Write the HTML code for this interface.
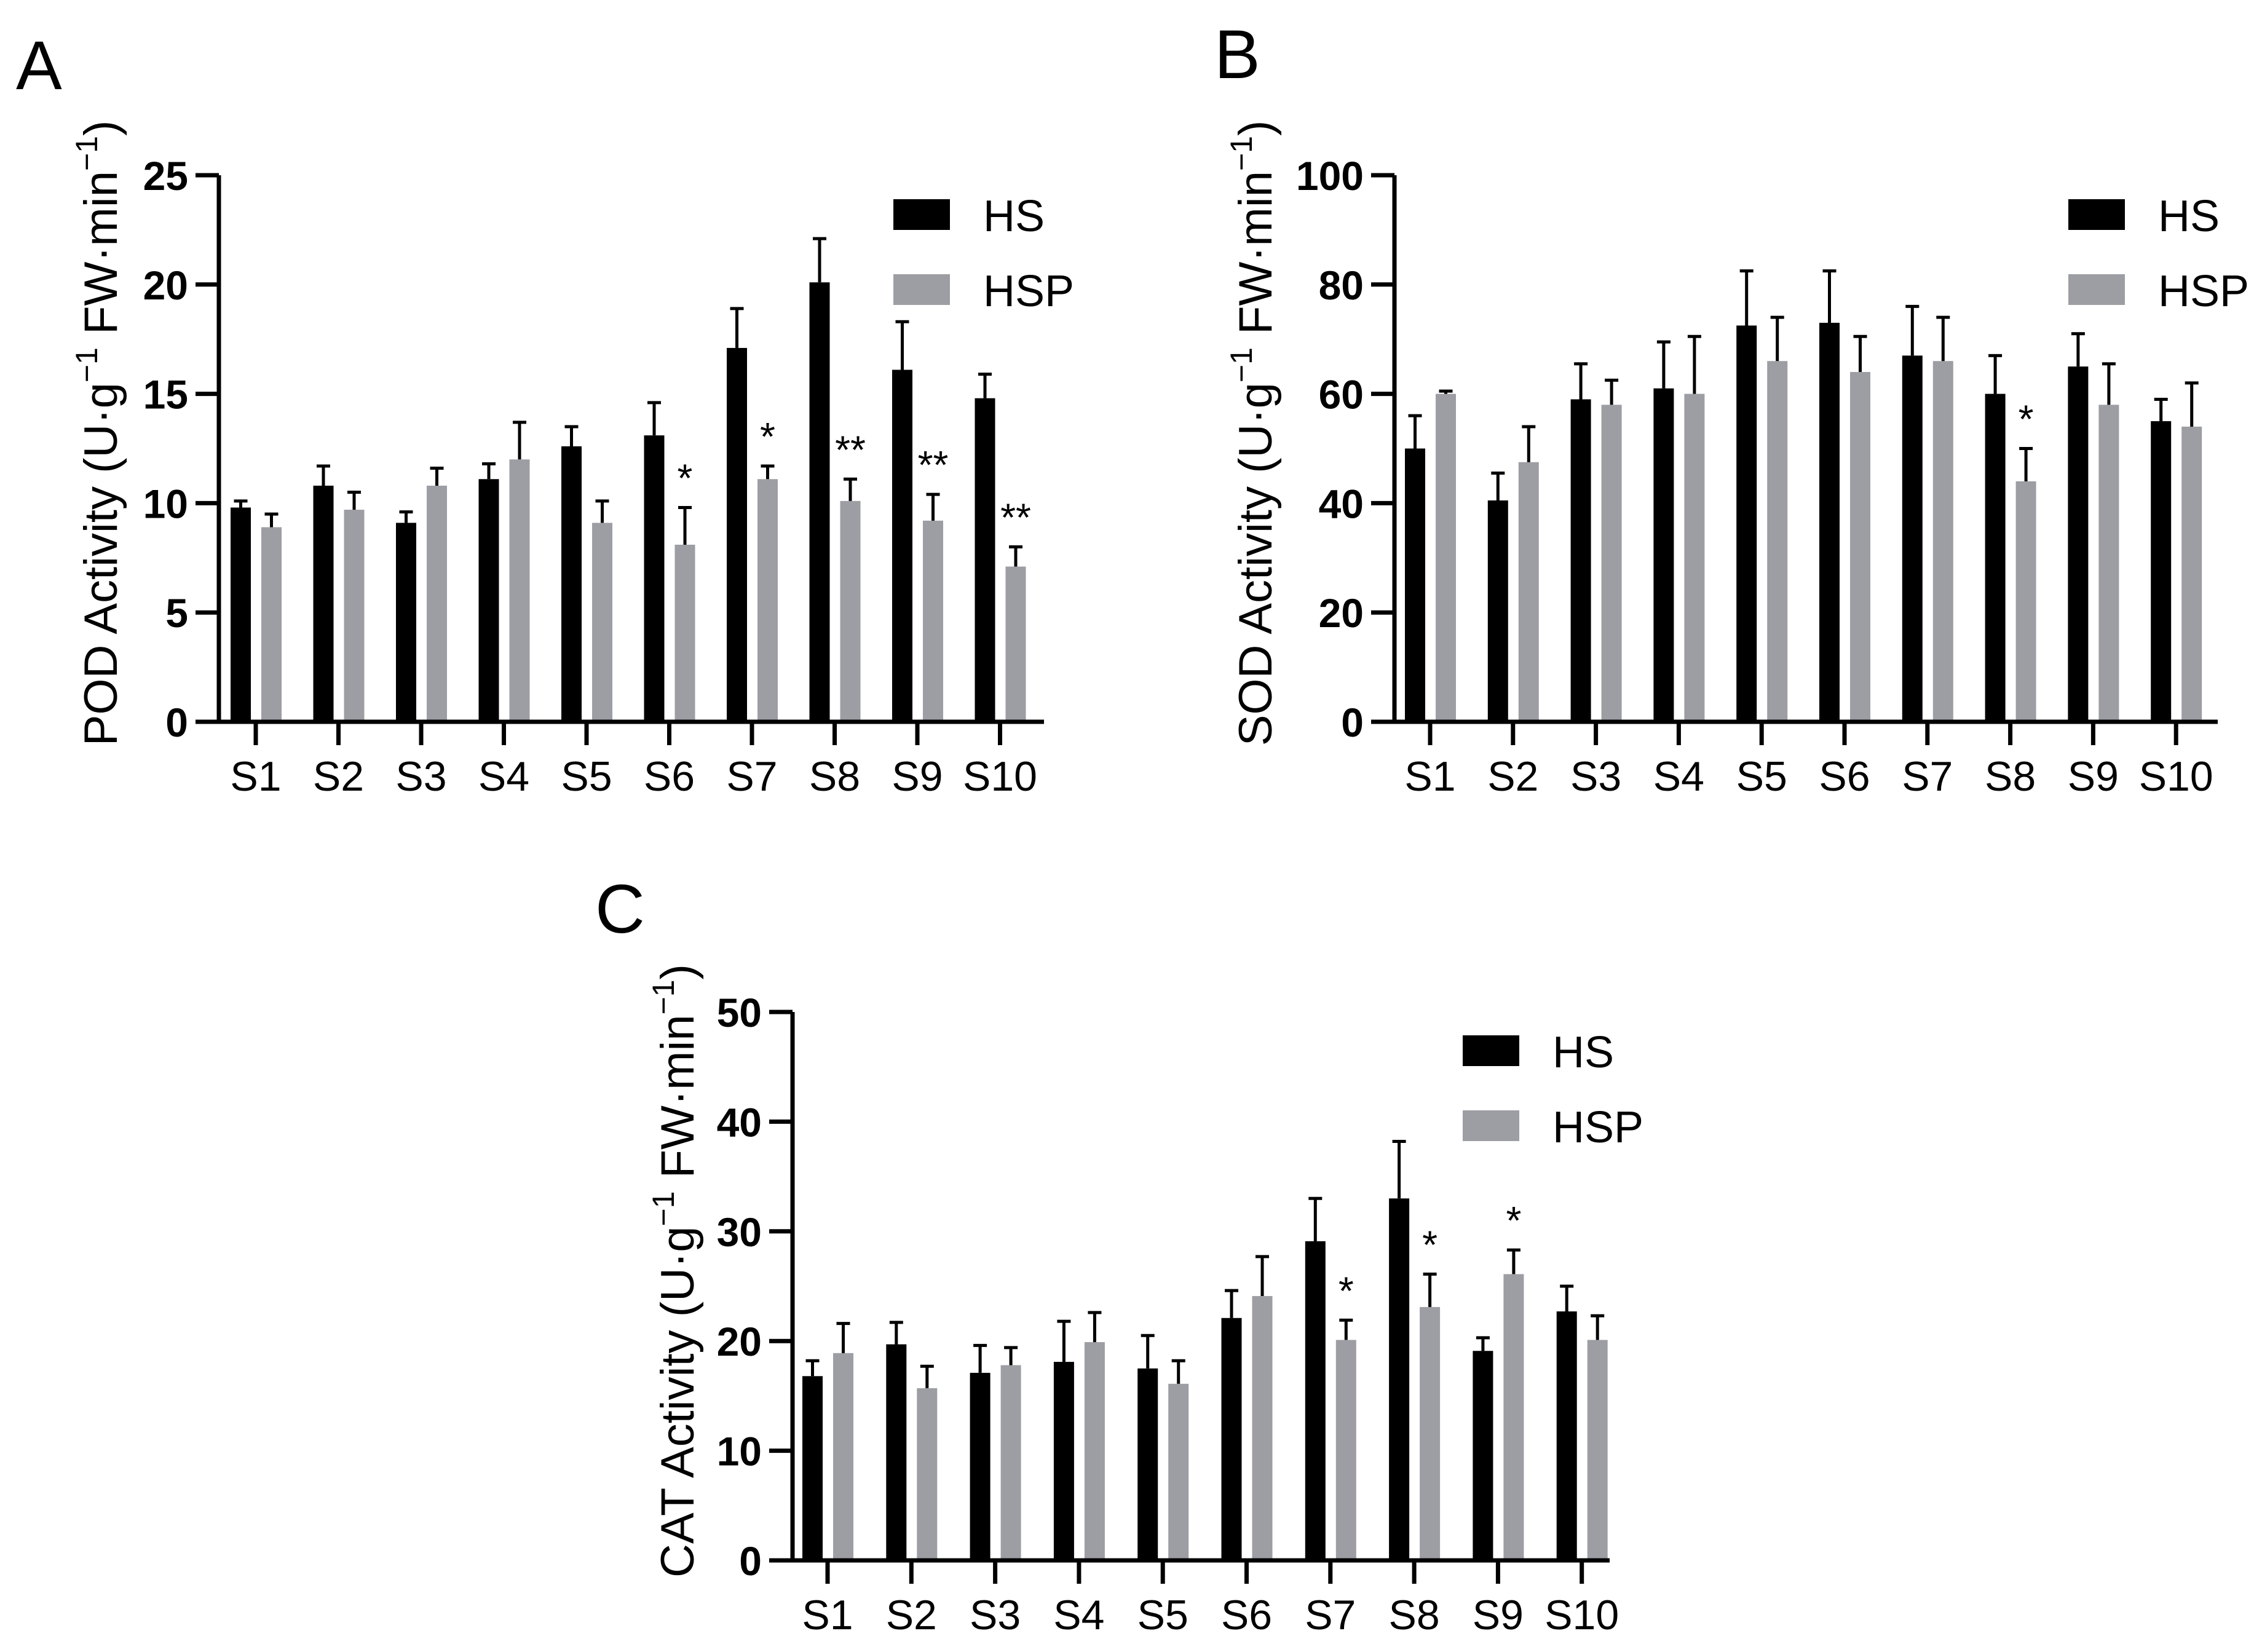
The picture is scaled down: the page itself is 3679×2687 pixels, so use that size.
<!DOCTYPE html>
<html><head><meta charset="utf-8">
<style>
html,body{margin:0;padding:0;background:#fff;}
svg{display:block;}
text{font-family:"Liberation Sans",Arial,sans-serif;}
</style></head>
<body>
<svg id="fig" width="3679" height="2687" viewBox="0 0 3679 2687" xmlns="http://www.w3.org/2000/svg"></svg>
<script>
const categories = ["S1","S2","S3","S4","S5","S6","S7","S8","S9","S10"];
// Panel A: POD
const podHS = [9.8,10.8,9.1,11.1,12.6,13.1,17.1,20.1,16.1,14.8];
const podHSErr = [10.1,11.7,9.6,11.8,13.5,14.6,18.9,22.1,18.3,15.9];
const podHSP = [8.9,9.7,10.8,12.0,9.1,8.1,11.1,10.1,9.2,7.1];
const podHSPErr = [9.5,10.5,11.6,13.7,10.1,9.8,11.7,11.1,10.4,8.0];
const podStars = ["","","","","","*","*","**","**","**"];
const podTicks = [0,5,10,15,20,25];
// Panel B: SOD
const sodHS = [50,40.5,59,61,72.5,73,67,60,65,55];
const sodHSErr = [56,45.5,65.5,69.5,82.5,82.5,76,67,71,59];
const sodHSP = [60,47.5,58,60,66,64,66,44,58,54];
const sodHSPErr = [60.5,54,62.5,70.5,74,70.5,74,50,65.5,62];
const sodStars = ["","","","","","","","*","",""];
const sodTicks = [0,20,40,60,80,100];
// Panel C: CAT
const catHS = [16.8,19.7,17.1,18.1,17.5,22.1,29.1,33.0,19.1,22.7];
const catHSErr = [18.2,21.7,19.6,21.8,20.5,24.6,33.0,38.2,20.3,25.0];
const catHSP = [18.9,15.7,17.8,19.9,16.1,24.1,20.1,23.1,26.1,20.1];
const catHSPErr = [21.6,17.7,19.4,22.6,18.2,27.7,21.9,26.1,28.3,22.3];
const catStars = ["","","","","","","*","*","*",""];
const catTicks = [0,10,20,30,40,50];

const NS = "http://www.w3.org/2000/svg";
const svg = document.getElementById('fig');
function el(tag, attrs, parent, txt){
  const e = document.createElementNS(NS, tag);
  for (const k in attrs) e.setAttribute(k, attrs[k]);
  if (txt !== undefined) e.textContent = txt;
  (parent||svg).appendChild(e);
  return e;
}
const GRAY = "#9d9ea3";

function panel(p){
  const g = el('g', {});
  
  
  const ymax = p.ticks[p.ticks.length-1];
  const yS = v => p.y0 - (v/ymax)*(p.y0 - p.yTop);
  const xS = i => p.s1 + i*p.step;
  for (let i=0;i<categories.length;i++){
    const c = xS(i);
    const specs = [[p.hs, p.hsErr, "#000", c-41, 'hs'], [p.hsp, p.hspErr, GRAY, c+9, 'hsp']];
    for (const [vals, errs, col, x, key] of specs){
      const r = el('rect', {x:x, y:yS(vals[i]), width:33, height:p.y0-yS(vals[i]), fill:col}, g);
      
      
      const ex = x+16.5;
      const eb = el('path', {d:`M${ex},${yS(vals[i])} V${yS(errs[i])} M${ex-11},${yS(errs[i])} H${ex+11}`, stroke:"#000", 'stroke-width':5, fill:'none'}, g);
      
      
    }
    if (p.stars[i]){
      const st = el('text', {x:c+25.5, y:yS(p.hspErr[i])-26, 'font-size':64, 'text-anchor':'middle'}, g, p.stars[i]);
      
      
    }
    const tk = el('line', {x1:c, x2:c, y1:p.y0, y2:p.y0+38, stroke:'#000', 'stroke-width':7}, g);
    
    
    const tl = el('text', {x:c, y:p.y0+112, 'font-size':68, 'text-anchor':'middle'}, g, categories[i]);
    
    
  }
  const ax = el('path', {d:`M${p.ax},${p.yTop} V${p.y0} H${p.xEnd}`, stroke:'#000', 'stroke-width':7, fill:'none'}, g);
  
  
  for (const t of p.ticks){
    const yt = el('line', {x1:p.ax-38, x2:p.ax, y1:yS(t), y2:yS(t), stroke:'#000', 'stroke-width':7}, g);
    
    
    const lb = el('text', {x:p.ax-50, y:yS(t)+24, 'font-size':66, 'font-weight':'bold', 'text-anchor':'end'}, g, String(t));
    
    
  }
  const yt = el('text', {transform:`translate(${p.titleX},${(p.y0+p.yTop)/2-25}) rotate(-90)`, 'font-size':76, 'text-anchor':'middle'}, g);
  
  
  el('tspan', {}, yt, p.title+" Activity (U·g");
  el('tspan', {dy:-32, 'font-size':50}, yt, "−1");
  el('tspan', {dy:32}, yt, " FW·min");
  el('tspan', {dy:-32, 'font-size':50}, yt, "−1");
  el('tspan', {dy:32}, yt, ")");
  const lg = el('g', {}, g);
  
  
  const l1 = el('rect', {x:p.legX, y:p.legY, width:92, height:50, fill:'#000'}, lg);
  
  
  const t1 = el('text', {x:p.legX+146, y:p.legY+52, 'font-size':72}, lg, 'HS');
  
  
  const l2 = el('rect', {x:p.legX, y:p.legY+122, width:92, height:50, fill:GRAY}, lg);
  
  
  const t2 = el('text', {x:p.legX+146, y:p.legY+174, 'font-size':72}, lg, 'HSP');
  
  
  const pl = el('text', {x:p.letX, y:p.letY, 'font-size':112}, g, p.letter);
  
  
}

panel({name:'panel-a-pod', letter:'A', letX:26, letY:145, title:'POD',
  hs:podHS, hsErr:podHSErr, hsp:podHSP, hspErr:podHSPErr, stars:podStars, ticks:podTicks,
  ax:356, yTop:285, y0:1174, s1:416, step:134.5, xEnd:1698, titleX:190, legX:1453, legY:324});
panel({name:'panel-b-sod', letter:'B', letX:1975, letY:127, title:'SOD',
  hs:sodHS, hsErr:sodHSErr, hsp:sodHSP, hspErr:sodHSPErr, stars:sodStars, ticks:sodTicks,
  ax:2268, yTop:285, y0:1174, s1:2326, step:134.8, xEnd:3607, titleX:2068, legX:3364, legY:324});
panel({name:'panel-c-cat', letter:'C', letX:968, letY:1517, title:'CAT',
  hs:catHS, hsErr:catHSErr, hsp:catHSP, hspErr:catHSPErr, stars:catStars, ticks:catTicks,
  ax:1289, yTop:1646, y0:2538, s1:1346, step:136.3, xEnd:2618, titleX:1128, legX:2379, legY:1684});
</script>
</body></html>
